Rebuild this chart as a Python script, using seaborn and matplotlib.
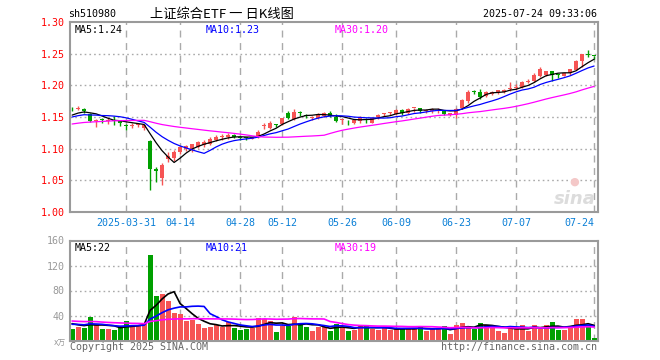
import numpy as np
import pandas as pd
import matplotlib
matplotlib.use("Agg")
import matplotlib.pyplot as plt
import seaborn as sns

# ---------------- data ----------------
holidays = ["2025-04-04", "2025-05-01", "2025-05-02", "2025-05-05", "2025-06-02"]
dates = [d for d in pd.bdate_range("2025-03-18", "2025-07-24").strftime("%Y-%m-%d") if d not in holidays]

opens = [1.163, 1.162, 1.163, 1.155, 1.143, 1.146, 1.143, 1.145, 1.144, 1.137,
         1.136, 1.137, 1.132, 1.112, 1.068, 1.054, 1.083, 1.085, 1.094, 1.099,
         1.100, 1.103, 1.106, 1.108, 1.114, 1.118, 1.118, 1.122, 1.118, 1.118,
         1.116, 1.118, 1.136, 1.133, 1.139, 1.139, 1.157, 1.147, 1.158, 1.152,
         1.149, 1.149, 1.152, 1.156, 1.150, 1.145, 1.144, 1.141, 1.143, 1.147,
         1.141, 1.150, 1.155, 1.156, 1.155, 1.161, 1.157, 1.164, 1.164, 1.160,
         1.159, 1.162, 1.160, 1.153, 1.153, 1.164, 1.176, 1.190, 1.190, 1.183,
         1.187, 1.189, 1.190, 1.194, 1.196, 1.198, 1.206, 1.207, 1.215, 1.216,
         1.222, 1.218, 1.215, 1.219, 1.225, 1.239, 1.249, 1.247]
highs = [1.166, 1.167, 1.165, 1.157, 1.147, 1.148, 1.149, 1.152, 1.146, 1.139,
         1.140, 1.141, 1.138, 1.113, 1.071, 1.077, 1.095, 1.098, 1.104, 1.106,
         1.108, 1.112, 1.113, 1.118, 1.122, 1.123, 1.125, 1.123, 1.119, 1.119,
         1.119, 1.129, 1.141, 1.143, 1.139, 1.149, 1.159, 1.162, 1.159, 1.154,
         1.152, 1.156, 1.158, 1.159, 1.155, 1.147, 1.145, 1.146, 1.151, 1.148,
         1.150, 1.154, 1.157, 1.158, 1.162, 1.163, 1.165, 1.165, 1.165, 1.163,
         1.165, 1.165, 1.161, 1.157, 1.164, 1.178, 1.192, 1.192, 1.195, 1.191,
         1.191, 1.193, 1.194, 1.206, 1.202, 1.207, 1.210, 1.219, 1.229, 1.223,
         1.223, 1.218, 1.220, 1.226, 1.240, 1.250, 1.256, 1.247]
lows = [1.159, 1.161, 1.157, 1.142, 1.134, 1.141, 1.139, 1.138, 1.136, 1.129,
        1.132, 1.135, 1.129, 1.034, 1.048, 1.042, 1.079, 1.081, 1.092, 1.096,
        1.094, 1.101, 1.102, 1.106, 1.112, 1.113, 1.116, 1.117, 1.114, 1.113,
        1.115, 1.117, 1.131, 1.131, 1.135, 1.138, 1.147, 1.145, 1.151, 1.148,
        1.146, 1.147, 1.150, 1.150, 1.142, 1.139, 1.137, 1.139, 1.140, 1.141,
        1.140, 1.147, 1.152, 1.153, 1.153, 1.153, 1.155, 1.158, 1.157, 1.157,
        1.157, 1.157, 1.153, 1.151, 1.148, 1.162, 1.172, 1.186, 1.179, 1.181,
        1.185, 1.187, 1.188, 1.191, 1.192, 1.196, 1.203, 1.205, 1.213, 1.214,
        1.207, 1.212, 1.214, 1.217, 1.224, 1.229, 1.244, 1.242]
closes = [1.162, 1.164, 1.160, 1.144, 1.145, 1.145, 1.146, 1.144, 1.141, 1.136,
          1.138, 1.139, 1.137, 1.068, 1.065, 1.075, 1.089, 1.094, 1.102, 1.105,
          1.107, 1.110, 1.111, 1.115, 1.119, 1.119, 1.121, 1.118, 1.117, 1.117,
          1.118, 1.127, 1.137, 1.141, 1.138, 1.148, 1.149, 1.158, 1.156, 1.151,
          1.150, 1.155, 1.157, 1.152, 1.144, 1.146, 1.143, 1.145, 1.150, 1.146,
          1.148, 1.153, 1.156, 1.157, 1.161, 1.156, 1.163, 1.165, 1.160, 1.161,
          1.163, 1.163, 1.155, 1.156, 1.162, 1.177, 1.190, 1.189, 1.182, 1.190,
          1.190, 1.193, 1.193, 1.196, 1.197, 1.206, 1.207, 1.216, 1.225, 1.222,
          1.216, 1.217, 1.219, 1.225, 1.238, 1.249, 1.248, 1.246]
volumes = [18.7, 21.9, 20.3, 37.9, 25.0, 19.2, 18.7, 17.0, 22.4, 31.5,
           23.5, 23.5, 26.0, 137.0, 71.4, 74.6, 63.4, 44.2, 42.0, 32.0,
           33.0, 26.7, 20.3, 21.9, 25.0, 22.4, 29.3, 20.8, 17.6, 18.7,
           20.8, 36.2, 35.2, 32.0, 14.4, 22.9, 22.9, 37.9, 27.7, 21.9,
           16.0, 21.9, 21.9, 16.0, 27.2, 21.0, 16.0, 17.0, 25.0, 25.0,
           19.2, 17.0, 19.7, 17.0, 18.1, 20.3, 18.1, 19.2, 22.9, 15.5,
           18.1, 19.2, 22.9, 10.7, 25.0, 28.3, 23.5, 18.7, 28.3, 25.0,
           25.0, 16.0, 12.3, 21.3, 18.7, 25.0, 16.0, 25.0, 18.0, 25.0,
           29.9, 17.0, 17.0, 23.5, 34.1, 34.1, 25.6, 3.7]

# sessions before the visible window (only feed the moving averages)
prior_closes = [1.124, 1.127, 1.126, 1.129, 1.131, 1.128, 1.130, 1.133, 1.132, 1.135,
                1.134, 1.136, 1.133, 1.137, 1.138, 1.136, 1.139, 1.140, 1.138, 1.142,
                1.143, 1.145, 1.148, 1.147, 1.152, 1.148, 1.151, 1.151, 1.153]
prior_volumes = [38, 31, 35, 29, 42, 36, 30, 33, 40, 34, 28, 37, 32, 35, 30, 39, 33, 31, 36, 26,
                 24, 27, 22, 28, 24, 31, 27, 30, 28]

tick_dates = ["2025-03-31", "2025-04-14", "2025-04-28", "2025-05-12", "2025-05-26",
              "2025-06-09", "2025-06-23", "2025-07-07", "2025-07-24"]
tick_labels = ["2025-03-31", "04-14", "04-28", "05-12", "05-26", "06-09", "06-23", "07-07", "07-24"]
price_ticks = [1.00, 1.05, 1.10, 1.15, 1.20, 1.25, 1.30]
vol_ticks = [40, 80, 120, 160]
ma_windows = [5, 10, 30]
price_ma_text = ["MA5:1.24", "MA10:1.23", "MA30:1.20"]
vol_ma_text = ["MA5:22", "MA10:21", "MA30:19"]

# ---------------- style ----------------
sns.set_theme(style="white")
MONO = ["DejaVu Sans Mono", "Noto Sans CJK SC"]
plt.rcParams["font.family"] = MONO
RED = "#f65454"
GREEN = "#00a000"
MA_COLORS = ["#000000", "#0000ff", "#ff00ff"]
GRID = "#aaaaaa"
FS = 7.2

n = len(closes)
idx = np.arange(n)
o = np.array(opens); c = np.array(closes); h = np.array(highs); l = np.array(lows)
up = c >= o
cols = np.where(up, RED, GREEN)

all_c = pd.Series(prior_closes + closes)
all_v = pd.Series(prior_volumes + volumes)
k = len(prior_closes)
price_ma = [all_c.rolling(w).mean().to_numpy()[k:] for w in ma_windows]
vol_ma = [all_v.rolling(w).mean().to_numpy()[k:] for w in ma_windows]
tick_pos = [dates.index(d) for d in tick_dates]

W, H = 660, 360
fig = plt.figure(figsize=(6.6, 3.6), dpi=100)
fig.patch.set_facecolor("white")
axp = fig.add_axes([70 / W, 1 - 212 / H, 528 / W, 190 / H])
axv = fig.add_axes([70 / W, 1 - 340.5 / H, 528 / W, 100 / H])

XL = (-0.35, n - 1 + 0.65)

# ---- price panel ----
for t in price_ticks[1:-1]:
    axp.axhline(t, color=GRID, lw=1, ls=(0, (1.2, 2.2)), zorder=0)
for p in tick_pos:
    axp.axvline(p, color=GRID, lw=1, ls=(0, (5, 4)), zorder=0)
    axv.axvline(p, color=GRID, lw=1, ls=(0, (5, 4)), zorder=0)

axp.vlines(idx, l, h, colors=cols, lw=1, zorder=2)
body_h = np.maximum(np.abs(c - o), 0.0014)
axp.bar(idx, body_h, bottom=np.minimum(o, c), width=0.78, color=cols, linewidth=0, zorder=3)
for ma, col in zip(price_ma, MA_COLORS):
    sns.lineplot(x=idx, y=ma, color=col, lw=0.9, ax=axp, zorder=4)

axp.set_xlim(*XL)
axp.set_ylim(1.00, 1.30)
axp.set_yticks(price_ticks)
axp.set_yticklabels([f"{t:.2f}" for t in price_ticks], color="red", fontsize=FS)
axp.set_xticks(tick_pos)
axp.set_xticklabels(tick_labels, color="#0a7fd6", fontsize=FS)
axp.get_xticklabels()[-1].set_horizontalalignment("right")
axp.tick_params(axis="both", length=0, pad=4)
axp.set_xlabel(""); axp.set_ylabel("")

xs = [0.008, 0.256, 0.502]
for x, txt, col in zip(xs, price_ma_text, MA_COLORS):
    axp.text(x, 0.985, txt, color=col, fontsize=FS, transform=axp.transAxes, va="top", ha="left")
axp.text(0.995, 0.02, "sina", transform=axp.transAxes, ha="right", va="bottom",
         fontsize=13, fontstyle="italic", fontweight="bold", color="#dcdcdc",
         family=["DejaVu Sans"], zorder=1)
axp.text(0.955, 0.16, "●", transform=axp.transAxes, ha="center", va="center",
         fontsize=8, color="#f4c8c8", family=["DejaVu Sans"], zorder=1)

# ---- volume panel ----
for t in vol_ticks[:-1]:
    axv.axhline(t, color=GRID, lw=1, ls=(0, (1.2, 2.2)), zorder=0)
dfv = pd.DataFrame({"i": idx, "vol": volumes, "dir": np.where(up, "up", "down")})
sns.barplot(data=dfv, x="i", y="vol", hue="dir", palette={"up": RED, "down": GREEN},
            native_scale=True, width=0.85, dodge=False, saturation=1, linewidth=0,
            errorbar=None, legend=False, ax=axv, zorder=2)
for ma, col in zip(vol_ma, MA_COLORS):
    sns.lineplot(x=idx, y=ma, color=col, lw=1.2, ax=axv, zorder=4)
axv.set_xlim(*XL)
axv.set_ylim(0, 160)
axv.set_yticks(vol_ticks)
axv.set_yticklabels([str(t) for t in vol_ticks], color="#999999", fontsize=FS)
axv.set_xticks([])
axv.tick_params(axis="both", length=0, pad=4)
axv.set_xlabel(""); axv.set_ylabel("")
for x, txt, col in zip(xs, vol_ma_text, MA_COLORS):
    axv.text(x, 0.975, txt, color=col, fontsize=FS, transform=axv.transAxes, va="top", ha="left")

for ax in (axp, axv):
    for s in ax.spines.values():
        s.set_color("#9a9a9a")
        s.set_linewidth(1.5)
    ax.set_facecolor("white")

# ---- header / footer ----
fig.text(68 / W, 1 - 14 / H, "sh510980", fontsize=FS, color="black", va="center", ha="left")
fig.text(150 / W, 1 - 14 / H, "上证综合ETF 一 日K线图", fontsize=9.5, color="black",
         va="center", ha="left", family=["Noto Sans CJK SC", "DejaVu Sans"])
fig.text(597 / W, 1 - 14 / H, "2025-07-24 09:33:06", fontsize=FS, color="black", va="center", ha="right")
fig.text(70 / W, 1 - 347 / H, "Copyright 2025 SINA.COM", fontsize=FS, color="#666666", va="center", ha="left")
fig.text(597 / W, 1 - 347 / H, "http://finance.sina.com.cn", fontsize=FS, color="#666666", va="center", ha="right")
fig.text(66 / W, 1 - 343 / H, "x万", fontsize=5.5, color="#999999", va="center", ha="right",
         family=["DejaVu Sans", "Noto Sans CJK SC"])

fig.savefig("out.png", dpi=100, facecolor="white")
